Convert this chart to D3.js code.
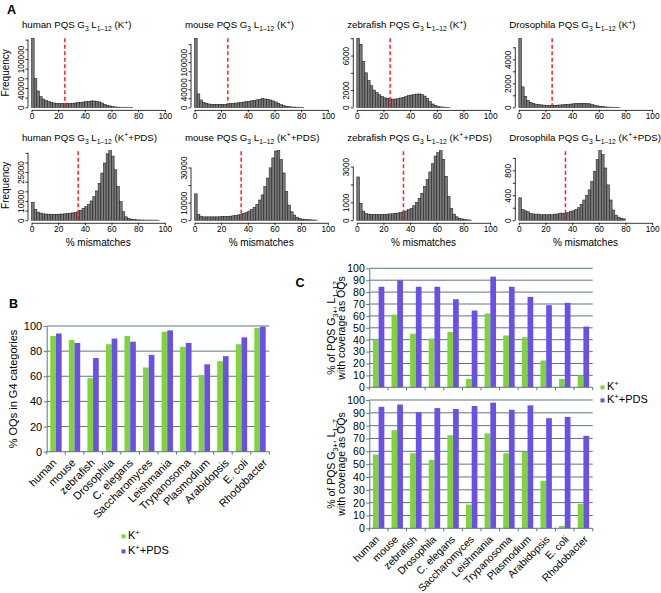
<!DOCTYPE html>
<html><head><meta charset="utf-8">
<script src="https://cdn.jsdelivr.net/npm/d3@7/dist/d3.min.js"></script>
<style>
html,body{margin:0;padding:0;background:#fff;}
svg{display:block;}
</style></head><body>
<svg id="fig" width="661" height="593"></svg>
<script>
// ================= DATA =================
// Panel A : histograms of % mismatches (bin width 2)
const speciesA = ["human", "mouse", "zebrafish", "Drosophila"];
const conditionsA = ["K+", "K+PDS"];
const mismatchCutoffs = [25, 35];
const binWidth = 2;
const xTicksA = [0, 20, 40, 60, 80, 100];

const histK_human = [142800, 59300, 33800, 22000, 17000, 13800, 11700, 10300, 9000, 8300, 7600, 7600, 7600, 7600, 8000, 8300, 9000, 9700, 10300, 11000, 11700, 12400, 13100, 13100, 12400, 11000, 9000, 6200, 4100, 2800, 1400, 700, 400, 200, 100, 100, 50, 30];
const histK_mouse = [153000, 29600, 16300, 11100, 8900, 7400, 6700, 6700, 6700, 6700, 6700, 6700, 7400, 8000, 8600, 9300, 10000, 10800, 11600, 12500, 13400, 14400, 15400, 16500, 17600, 19300, 18500, 17800, 16300, 14100, 11900, 8900, 5900, 3700, 2200, 1500, 700, 500, 300, 200, 100];
const histK_zebrafish = [8000, 7300, 5300, 4000, 3100, 2500, 2000, 1700, 1450, 1250, 1100, 1000, 970, 950, 960, 1000, 1080, 1150, 1250, 1350, 1420, 1480, 1530, 1550, 1500, 1300, 1000, 650, 380, 200, 100, 50, 25, 10, 5];
const histK_drosophila = [5750, 1700, 900, 550, 400, 320, 260, 220, 200, 180, 170, 165, 165, 170, 180, 195, 210, 230, 250, 270, 290, 310, 325, 335, 335, 320, 290, 240, 180, 130, 80, 50, 30, 20, 12, 8, 5, 3];

const histP_human = [9300, 5600, 4200, 3700, 3300, 3200, 3150, 3100, 3100, 3100, 3150, 3200, 3300, 3400, 3600, 3800, 4000, 4400, 5200, 6100, 7000, 8200, 10000, 12200, 15200, 19200, 24500, 29700, 34500, 36200, 33300, 26200, 17500, 9600, 4400, 1750, 900, 500, 300, 200, 150, 100, 80, 60, 50, 40, 30, 20];
const histP_mouse = [15000, 3300, 2300, 1900, 1900, 1900, 1900, 1900, 1900, 1950, 2000, 2100, 2200, 2300, 2500, 2700, 3000, 3300, 3800, 4400, 5200, 6100, 7300, 9000, 11500, 14400, 19200, 24000, 29800, 35500, 39400, 39700, 34500, 26900, 16300, 8600, 4800, 2900, 1700, 1000, 600, 400, 300, 200, 150, 100];
const histP_zebrafish = [2420, 950, 510, 380, 340, 320, 320, 320, 320, 320, 330, 340, 350, 360, 380, 400, 430, 470, 520, 590, 660, 810, 1000, 1230, 1510, 1890, 2270, 2700, 3160, 3590, 3780, 3900, 3400, 2460, 1320, 660, 340, 190, 110, 75, 40, 20, 10];
const histP_drosophila = [360, 170, 150, 135, 108, 100, 97, 97, 86, 92, 86, 90, 86, 97, 100, 113, 113, 108, 124, 140, 151, 173, 200, 254, 324, 394, 486, 621, 783, 972, 1118, 1053, 837, 567, 324, 162, 81, 49, 32, 22];

const yTicksK_human = [0, 20000, 40000, 60000, 80000, 100000, 120000, 140000];
const yLabelsK_human = [0, 40000, 100000];
const yTicksK_mouse = [0, 20000, 40000, 60000, 80000, 100000, 120000, 140000];
const yLabelsK_mouse = [0, 40000, 100000];
const yTicksK_zebrafish = [0, 2000, 4000, 6000, 8000];
const yLabelsK_zebrafish = [0, 2000, 6000];
const yTicksK_drosophila = [0, 1000, 2000, 3000, 4000, 5000];
const yLabelsK_drosophila = [0, 2000, 4000];
const yTicksP_human = [0, 5000, 10000, 15000, 20000, 25000, 30000, 35000];
const yLabelsP_human = [0, 10000, 25000];
const yTicksP_mouse = [0, 10000, 20000, 30000];
const yLabelsP_mouse = [0, 10000, 30000];
const yTicksP_zebrafish = [0, 1000, 2000, 3000];
const yLabelsP_zebrafish = [0, 1000, 3000];
const yTicksP_drosophila = [0, 200, 400, 600, 800, 1000];
const yLabelsP_drosophila = [0, 400, 800];

// Panels B and C
const organisms = ["human", "mouse", "zebrafish", "Drosophila", "C. elegans", "Saccharomyces", "Leishmania", "Trypanosoma", "Plasmodium", "Arabidopsis", "E. coli", "Rhodobacter"];
const seriesNames = ["K+", "K+PDS"];
const oqG4_K   = [92, 89, 58.5, 85.5, 92, 67, 95.5, 83.5, 61, 72, 85.5, 98.5];
const oqG4_PDS = [94, 86.5, 74.5, 90, 87.5, 77, 96.5, 86.5, 69.5, 76, 91, 99.5];
const covL12_K   = [40, 61, 45, 41, 46.5, 7, 62, 43.5, 42, 22.5, 7, 10];
const covL12_PDS = [84.5, 90, 84.5, 84.5, 74, 64.5, 93, 84.5, 76, 69, 71, 51];
const covL7_K    = [57.5, 76.5, 58.5, 53.3, 72.5, 18.5, 74, 58.5, 59.7, 37, 1.8, 19];
const covL7_PDS  = [94.7, 96.5, 90.5, 93.7, 93, 95.3, 97.9, 92.4, 95.8, 85.8, 86.8, 72.1];
const yTicksB = [0, 20, 40, 60, 80, 100];
const yTicksC = [0, 10, 20, 30, 40, 50, 60, 70, 80, 90, 100];

// ================= DRAWING =================
const FONT = '"Liberation Sans", Arial, Helvetica, sans-serif';
const svg = d3.select('#fig').attr('font-family', FONT);
const GREEN = '#7fd33b', PURPLE = '#6b50e6', GRID = '#5a7784';

function rich(sel, parts, fs) {
  let off = 0;
  parts.forEach(p => {
    const t = p[1] === 'b' ? fs * 0.3 : (p[1] === 'p' ? -fs * 0.38 : 0);
    const ts = sel.append('tspan').attr('dy', t - off).text(p[0]);
    if (p[1]) ts.attr('font-size', fs * 0.7);
    off = t;
  });
}

// ---- Panel A ----
const histData = [
  [histK_human, histK_mouse, histK_zebrafish, histK_drosophila],
  [histP_human, histP_mouse, histP_zebrafish, histP_drosophila]];
const yTickSets = [
  [yTicksK_human, yTicksK_mouse, yTicksK_zebrafish, yTicksK_drosophila],
  [yTicksP_human, yTicksP_mouse, yTicksP_zebrafish, yTicksP_drosophila]];
const yLabelSets = [
  [yLabelsK_human, yLabelsK_mouse, yLabelsK_zebrafish, yLabelsK_drosophila],
  [yLabelsP_human, yLabelsP_mouse, yLabelsP_zebrafish, yLabelsP_drosophila]];

const colX0 = [31.5, 194.5, 356.8, 518.8];
const plotW = 133.3;
const rowBase = [107.3, 220.2];
const rowTop = [38.3, 150.5];
const titleY = [28.3, 140.6];

svg.append('text').attr('x', 7).attr('y', 13.5).attr('font-size', 12.5).attr('font-weight', 'bold').text('A');

histData.forEach((row, r) => row.forEach((counts, c) => {
  const g = svg.append('g');
  const x = d3.scaleLinear().domain([0, 100]).range([colX0[c], colX0[c] + plotW]);
  const y = d3.scaleLinear().domain([0, d3.max(counts)]).range([rowBase[r], rowTop[r]]);
  g.append('g').selectAll('rect').data(counts).join('rect')
    .attr('x', (d, i) => x(i * binWidth)).attr('width', x(binWidth) - x(0))
    .attr('y', d => y(d)).attr('height', d => y(0) - y(d))
    .attr('fill', '#7a7a7a').attr('stroke', '#1a1a1a').attr('stroke-width', 0.55);
  const cut = mismatchCutoffs[r];
  const cx = x(cut);
  g.append('line').attr('x1', cx).attr('x2', cx).attr('y1', y(0)).attr('y2', rowTop[r] - 1)
    .attr('stroke', '#ff2020').attr('stroke-width', 1.5).attr('stroke-dasharray', '4,2.5');
  // x axis
  const xa = g.append('g').attr('transform', `translate(0,${rowBase[r] + 2.6})`)
    .call(d3.axisBottom(x).tickValues(xTicksA).tickSize(2.5).tickSizeOuter(0).tickPadding(0.8));
  xa.attr('font-family', FONT).attr('font-size', 8.3);
  xa.selectAll('path,line').attr('stroke', '#000').attr('stroke-width', 0.8);
  // y axis
  const ticks = yTickSets[r][c], labs = yLabelSets[r][c];
  const ya = g.append('g').attr('transform', `translate(${colX0[c] - 3.5},0)`)
    .call(d3.axisLeft(y).tickValues(ticks).tickSize(2.5).tickSizeOuter(0)
      .tickFormat(d => labs.includes(d) ? String(d) : ''));
  ya.attr('font-family', FONT).attr('font-size', 8.3);
  ya.select('.domain').remove();
  ya.append('line').attr('x1', 0).attr('x2', 0).attr('y1', y(0)).attr('y2', y(d3.max(ticks)))
    .attr('stroke', '#000').attr('stroke-width', 0.8);
  ya.selectAll('line').attr('stroke', '#000').attr('stroke-width', 0.8);
  ya.selectAll('.tick text').attr('x', null).attr('dy', null).attr('text-anchor', 'middle')
    .attr('transform', 'translate(-4.3,0) rotate(-90)');
  // title
  const cond = r === 0 ? [['(K'], ['+', 'p'], [')']] : [['(K'], ['+', 'p'], ['+PDS)']];
  const tt = svg.append('text').attr('x', colX0[c] - 9.6).attr('y', titleY[r]).attr('font-size', 9.7);
  rich(tt, [[speciesA[c] + ' PQS G'], ['3', 'b'], [' L'], ['1–12', 'b'], [' ']].concat(cond), 9.7);
  if (r === 1) {
    svg.append('text').attr('x', (x(0) + x(100)) / 2).attr('y', 246.3).attr('text-anchor', 'middle')
      .attr('font-size', 10).text('% mismatches');
  }
  if (c === 0) {
    svg.append('text').attr('transform', `translate(9,${(rowBase[r] + rowTop[r]) / 2}) rotate(-90)`)
      .attr('text-anchor', 'middle').attr('font-size', 10).text('Frequency');
  }
}));

// ---- grouped bar chart helper (B, C) ----
function groupedBars(opt) {
  const g = svg.append('g');
  const x0 = d3.scaleBand().domain(organisms).range([opt.left, opt.right]).padding(0);
  const x1 = d3.scaleBand().domain(seriesNames).range([0, x0.bandwidth()]).paddingInner(0).paddingOuter(0.63);
  const y = d3.scaleLinear().domain([0, 100]).range([opt.bottom, opt.top]);
  // gridlines
  g.append('g').selectAll('line').data(opt.ticks.filter(t => t > 0)).join('line')
    .attr('x1', opt.left).attr('x2', opt.right).attr('y1', d => y(d)).attr('y2', d => y(d))
    .attr('stroke', GRID).attr('stroke-width', 1);
  // bars
  const rows = organisms.map((o, i) => ({ o, v: [opt.k[i], opt.p[i]] }));
  g.append('g').selectAll('g').data(rows).join('g')
    .attr('transform', d => `translate(${x0(d.o)},0)`)
    .selectAll('rect').data(d => d.v.map((v, j) => ({ s: seriesNames[j], v }))).join('rect')
    .attr('x', d => x1(d.s)).attr('width', x1.bandwidth())
    .attr('y', d => y(d.v)).attr('height', d => y(0) - y(d.v))
    .attr('fill', d => d.s === 'K+' ? GREEN : PURPLE);
  // y axis
  const ya = g.append('g').attr('transform', `translate(${opt.left},0)`)
    .call(d3.axisLeft(y).tickValues(opt.ticks).tickSize(3).tickSizeOuter(0).tickPadding(1.5));
  ya.attr('font-family', FONT).attr('font-size', opt.fs).attr('fill', '#000');
  ya.selectAll('path,line').attr('stroke', GRID).attr('stroke-width', 1);
  ya.selectAll('text').attr('fill', '#000');
  // x axis line + boundary ticks
  const bounds = organisms.map(o => x0(o)).concat([opt.right]);
  g.append('line').attr('x1', opt.left).attr('x2', opt.right).attr('y1', y(0)).attr('y2', y(0))
    .attr('stroke', GRID).attr('stroke-width', 1);
  g.append('g').selectAll('line').data(bounds).join('line')
    .attr('x1', d => d).attr('x2', d => d).attr('y1', y(0)).attr('y2', y(0) + 3)
    .attr('stroke', GRID).attr('stroke-width', 1);
  if (opt.labels) {
    g.append('g').selectAll('text').data(organisms).join('text')
      .attr('transform', (d, i) => `translate(${x0(d) + x0.bandwidth() / 2 + 1.3 + i * opt.drift},${y(0) + 11.8}) rotate(-45)`)
      .attr('text-anchor', 'end').attr('font-size', opt.lfs).text(d => d);
  }
  return { g, y };
}

// ---- Panel B ----
svg.append('text').attr('x', 9).attr('y', 308).attr('font-size', 12.5).attr('font-weight', 'bold').text('B');
groupedBars({ left: 46.7, right: 269.3, top: 326, bottom: 451.7, ticks: yTicksB, k: oqG4_K, p: oqG4_PDS, fs: 11, labels: true, lfs: 11, drift: 0.6 });
svg.append('text').attr('transform', 'translate(17,389) rotate(-90)').attr('text-anchor', 'middle')
  .attr('font-size', 11).text('% OQs in G4 categories');

function legend(x, y1, y2) {
  [[y1, GREEN, [['K'], ['+', 'p']]], [y2, PURPLE, [['K'], ['+', 'p'], ['+PDS']]]].forEach(([yy, col, parts]) => {
    svg.append('rect').attr('x', x).attr('y', yy - 4.6).attr('width', 4).attr('height', 4).attr('fill', col);
    const t = svg.append('text').attr('x', x + 6.5).attr('y', yy).attr('font-size', 11);
    rich(t, parts, 11);
  });
}
legend(121.5, 539, 554);

// ---- Panel C ----
svg.append('text').attr('x', 295.5).attr('y', 287).attr('font-size', 12.5).attr('font-weight', 'bold').text('C');
groupedBars({ left: 369.3, right: 592.7, top: 268.3, bottom: 387.3, ticks: yTicksC, k: covL12_K, p: covL12_PDS, fs: 10.5, labels: false, drift: 0 });
groupedBars({ left: 369.3, right: 592.7, top: 400, bottom: 528.3, ticks: yTicksC, k: covL7_K, p: covL7_PDS, fs: 10.5, labels: true, lfs: 10.4, drift: 0.34 });

function cLabel(cy, sub) {
  const t1 = svg.append('text').attr('transform', `translate(334.5,${cy}) rotate(-90)`).attr('text-anchor', 'middle').attr('font-size', 10.5);
  rich(t1, [['% of PQS G'], ['3+', 'b'], [', L'], [sub, 'b']], 10.5);
  svg.append('text').attr('transform', `translate(345,${cy}) rotate(-90)`).attr('text-anchor', 'middle')
    .attr('font-size', 10.5).text('with coverage as OQs');
}
cLabel(328, '1–12');
cLabel(464, '1–7');
legend(600.5, 390, 403);
</script>
</body></html>
